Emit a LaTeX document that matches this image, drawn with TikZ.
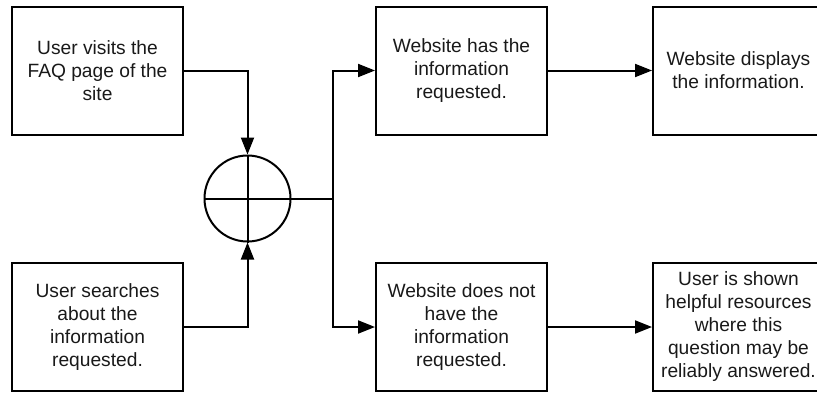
\documentclass[tikz,border=0pt]{standalone}
\usepackage{fontspec}
\setmainfont{Liberation Sans}
\usetikzlibrary{arrows.meta}
\begin{document}
\begin{tikzpicture}[x=1pt,y=-1pt,
  box/.style={draw=black,line width=2pt,minimum width=171pt,minimum height=128pt,
    inner sep=0pt,align=center,font=\fontsize{19.2pt}{23pt}\selectfont,text=black!90},
  conn/.style={line width=2pt},
  arr/.style={conn,-{Triangle[length=17pt,width=13pt]}}]
\useasboundingbox (0,0) rectangle (817,392);
\clip (0,0) rectangle (817,392);
\node[box] (a) at (97.5,70.5) {User visits the\\FAQ page of the\\site};
\node[box] (b) at (97.5,327) {User searches\\about the\\information\\requested.};
\node[draw,circle,line width=2pt,minimum size=86pt,inner sep=0pt] (c) at (247.5,198.5) {};
\draw[line width=2pt] (c.north) -- (c.south);
\draw[line width=2pt] (c.west) -- (c.east);
\node[box] (d) at (461.5,70.5) {Website has the\\information\\requested.};
\node[box] (e) at (461.5,327) {Website does not\\have the\\information\\requested.};
\node[box] (f) at (738.5,70.5) {Website displays\\the information.};
\node[box] (g) at (738.5,327) {User is shown\\helpful resources\\where this\\question may be\\reliably answered.};
\coordinate (j) at (333,198.5);
\draw[arr] (a.east) -| (c.north);
\draw[arr] (b.east) -| (c.south);
\draw[conn] (c.east) -- (j);
\draw[arr] (j) |- (d.west);
\draw[arr] (j) |- (e.west);
\draw[arr] (d.east) -- (f.west);
\draw[arr] (e.east) -- (g.west);
\end{tikzpicture}
\end{document}
